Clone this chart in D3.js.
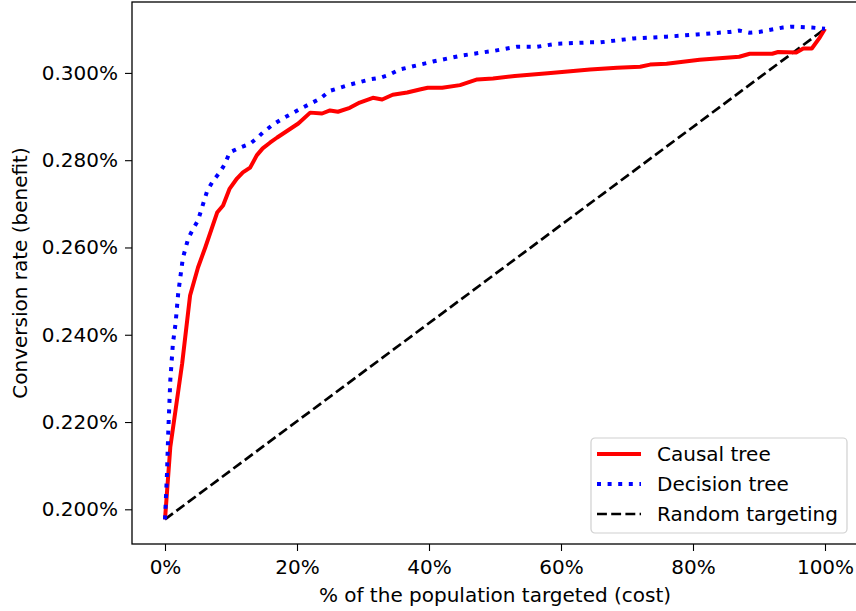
<!DOCTYPE html>
<html>
<head>
<meta charset="utf-8">
<script src="https://cdn.jsdelivr.net/npm/d3@7"></script>
<style>
  body { margin: 0; background: #fff; }
  text { font-family: "DejaVu Sans", sans-serif; }
</style>
</head>
<body>
<svg id="drawing_region"></svg>
<script>
// share of population targeted (fraction) and conversion rate (fraction)
const causalX = [0, 0.008, 0.026, 0.038, 0.050, 0.061, 0.079, 0.088, 0.098, 0.109, 0.118, 0.129, 0.139, 0.148, 0.159,
    0.170, 0.190, 0.202, 0.220, 0.238, 0.250, 0.262, 0.280, 0.295, 0.315, 0.329, 0.345, 0.367, 0.386, 0.398,
    0.420, 0.447, 0.473, 0.497, 0.530, 0.580, 0.610, 0.644, 0.685, 0.720, 0.735, 0.760, 0.810, 0.870, 0.886,
    0.920, 0.929, 0.957, 0.967, 0.980, 0.992, 1.0];
const causalY = [0.1977, 0.2142, 0.2334, 0.2490, 0.2554, 0.2600, 0.2680, 0.2696, 0.2735, 0.2758, 0.2772, 0.2783, 0.2811, 0.2827, 0.2840,
    0.2852, 0.2872, 0.2884, 0.2909, 0.2907, 0.2914, 0.2911, 0.2920, 0.2932, 0.2943, 0.2939, 0.2950, 0.2955, 0.2962, 0.2966,
    0.2966, 0.2972, 0.2985, 0.2987, 0.2993, 0.2999, 0.3003, 0.3008, 0.3012, 0.3014, 0.3019, 0.3021, 0.3030, 0.3037, 0.3044,
    0.3044, 0.3048, 0.3047, 0.3056, 0.3056, 0.3081, 0.3101].map(v => v / 100);

const decisionX = [0, 0.003, 0.005, 0.008, 0.012, 0.016, 0.020, 0.027, 0.035, 0.042, 0.050, 0.064, 0.073, 0.083, 0.091,
    0.098, 0.114, 0.129, 0.139, 0.148, 0.164, 0.179, 0.208, 0.235, 0.250, 0.280, 0.310, 0.326, 0.340, 0.356,
    0.406, 0.450, 0.500, 0.533, 0.564, 0.594, 0.644, 0.660, 0.710, 0.760, 0.806, 0.856, 0.870, 0.886, 0.900,
    0.936, 0.950, 0.980, 1.0];
const decisionY = [0.1977, 0.2082, 0.2180, 0.2295, 0.2380, 0.2426, 0.2495, 0.2575, 0.2620, 0.2641, 0.2662, 0.2730, 0.2753, 0.2772, 0.2792,
    0.2818, 0.2829, 0.2838, 0.2850, 0.2863, 0.2882, 0.2896, 0.2920, 0.2941, 0.2959, 0.2973, 0.2985, 0.2989, 0.2996, 0.3008,
    0.3026, 0.3040, 0.3051, 0.3060, 0.3060, 0.3067, 0.3070, 0.3070, 0.3079, 0.3083, 0.3088, 0.3094, 0.3097, 0.3092, 0.3094,
    0.3104, 0.3106, 0.3104, 0.3101].map(v => v / 100);

const randomX = [0, 1];
const randomY = [0.1977, 0.3101].map(v => v / 100);

const xTicks = [0, 0.2, 0.4, 0.6, 0.8, 1.0];
const yTicks = [0.0020, 0.0022, 0.0024, 0.0026, 0.0028, 0.0030];

const seriesNames = ["Causal tree", "Decision tree", "Random targeting"];

class LiftChart {

    constructor( config ) {
        this.config = config;
        this.init();
    }

    init() {
        let self = this;
        const c = self.config;
        self.inner_width = c.width - c.margin.left - c.margin.right;
        self.inner_height = c.height - c.margin.top - c.margin.bottom;

        self.svg = d3.select( c.parent )
            .attr('width', c.width)
            .attr('height', c.height);

        self.svg.append('defs').append('clipPath')
            .attr('id', 'plot_clip')
            .append('rect')
            .attr('width', self.inner_width)
            .attr('height', self.inner_height);

        self.chart = self.svg.append('g')
            .attr('transform', `translate(${c.margin.left}, ${c.margin.top})`);

        self.xscale = d3.scaleLinear()
            .domain([-0.05, 1.05])
            .range([0, self.inner_width]);

        self.yscale = d3.scaleLinear()
            .domain([0.0019205, 0.0031625])
            .range([self.inner_height, 0]);
    }

    render() {
        let self = this;
        const w = self.inner_width, h = self.inner_height;
        const fs = '20px';

        const xaxis = d3.axisBottom( self.xscale )
            .tickValues( xTicks )
            .tickFormat( d3.format('.0%') )
            .tickSize(7)
            .tickPadding(9);
        const yaxis = d3.axisLeft( self.yscale )
            .tickValues( yTicks )
            .tickFormat( d3.format('.3%') )
            .tickSize(7)
            .tickPadding(7);

        const xg = self.chart.append('g')
            .attr('transform', `translate(0, ${h})`)
            .call( xaxis );
        const yg = self.chart.append('g').call( yaxis );

        [xg, yg].forEach( g => {
            g.select('.domain').remove();
            g.selectAll('line').attr('stroke', '#000').attr('stroke-width', 1.1);
            g.selectAll('text')
                .attr('fill', '#000')
                .style('font-size', fs)
                .style('font-family', 'DejaVu Sans');
        });

        const line = d3.line()
            .x( d => self.xscale(d[0]) )
            .y( d => self.yscale(d[1]) );

        const lines = self.chart.append('g').attr('clip-path', 'url(#plot_clip)');

        lines.append('path')
            .datum( d3.zip(randomX, randomY) )
            .attr('d', line)
            .attr('fill', 'none')
            .attr('stroke', '#000')
            .attr('stroke-width', 2.7)
            .attr('stroke-dasharray', '9.9,4.3');

        lines.append('path')
            .datum( d3.zip(causalX, causalY) )
            .attr('d', line)
            .attr('fill', 'none')
            .attr('stroke', 'red')
            .attr('stroke-width', 4)
            .attr('stroke-linejoin', 'round');

        lines.append('path')
            .datum( d3.zip(decisionX, decisionY) )
            .attr('d', line)
            .attr('fill', 'none')
            .attr('stroke', 'blue')
            .attr('stroke-width', 4)
            .attr('stroke-dasharray', '4,6.6');

        // frame
        self.chart.append('rect')
            .attr('width', w)
            .attr('height', h)
            .attr('fill', 'none')
            .attr('stroke', '#000')
            .attr('stroke-width', 1.3);

        // axis titles
        self.chart.append('text')
            .attr('x', w / 2)
            .attr('y', h + 58)
            .attr('text-anchor', 'middle')
            .style('font-size', fs)
            .text('% of the population targeted (cost)');

        self.svg.append('text')
            .attr('transform', `translate(27, ${self.config.margin.top + h / 2}) rotate(-90)`)
            .attr('text-anchor', 'middle')
            .style('font-size', fs)
            .text('Conversion rate (benefit)');

        // legend
        const lg = self.svg.append('g').attr('transform', 'translate(591, 438)');
        lg.append('rect')
            .attr('width', 256)
            .attr('height', 95)
            .attr('rx', 4)
            .attr('fill', '#fff')
            .attr('fill-opacity', 0.8)
            .attr('stroke', '#d0d0d0')
            .attr('stroke-width', 1.2);

        const styles = [
            { color: 'red', width: 4, dash: null },
            { color: 'blue', width: 4, dash: '4,6.6' },
            { color: '#000', width: 2.7, dash: '9.9,4.3' }
        ];
        seriesNames.forEach( (name, i) => {
            const y = 16 + i * 30;
            lg.append('line')
                .attr('x1', 6).attr('x2', 50)
                .attr('y1', y).attr('y2', y)
                .attr('stroke', styles[i].color)
                .attr('stroke-width', styles[i].width)
                .attr('stroke-dasharray', styles[i].dash);
            lg.append('text')
                .attr('x', 66)
                .attr('y', y + 7)
                .style('font-size', fs)
                .text(name);
        });
    }
}

const chart = new LiftChart({
    parent: '#drawing_region',
    width: 856,
    height: 611,
    margin: { top: 2, right: -2, bottom: 67, left: 132 }
});
chart.render();
</script>
</body>
</html>
